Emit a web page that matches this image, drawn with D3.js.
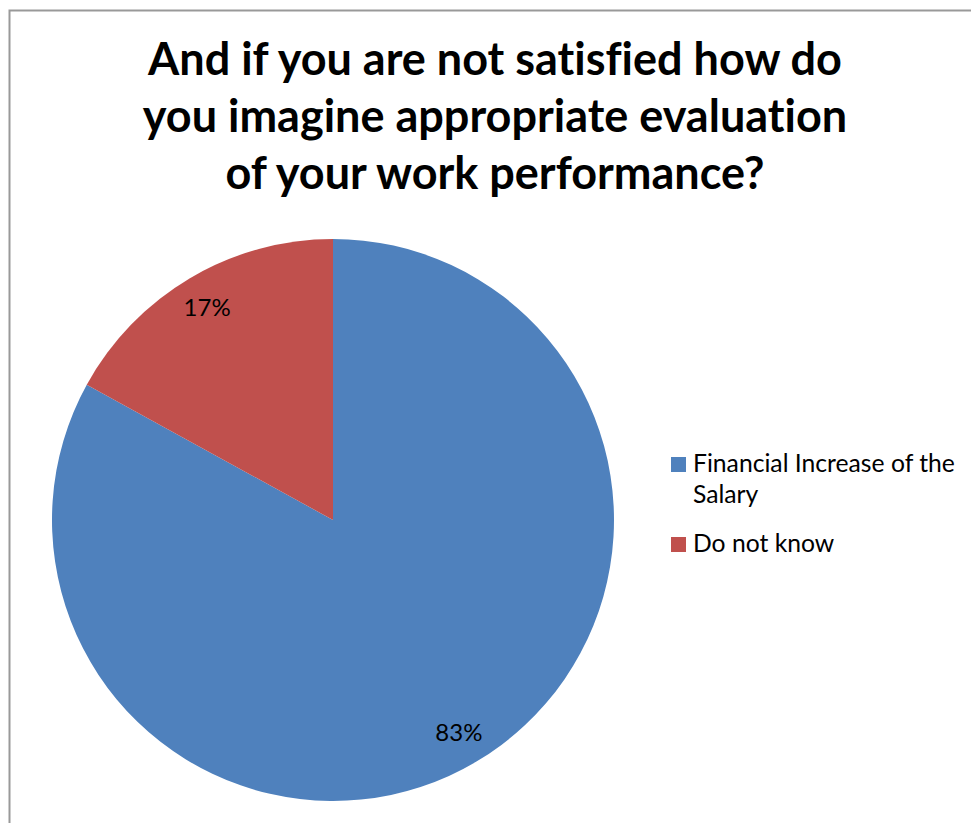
<!DOCTYPE html>
<html>
<head>
<meta charset="utf-8">
<script src="https://cdn.jsdelivr.net/npm/d3@7"></script>
<style>
  html, body { margin: 0; padding: 0; background: #fff; }
  svg { display: block; }
  text { font-family: Lato, "Liberation Sans", sans-serif; font-variant-ligatures: none; }
</style>
</head>
<body>
<script>
// Survey answers and their shares (percent)
const categories = ["Financial Increase of the Salary", "Do not know"];
const values = [83, 17];
const legendLines = [["Financial Increase of the", "Salary"], ["Do not know"]];
const titleLines = [
  "And if you are not satisfied how do",
  "you imagine appropriate evaluation",
  "of your work performance?"
];
const colors = ["#4F81BD", "#C0504D"];

const W = 971, H = 823;
const svg = d3.select("body").append("svg").attr("width", W).attr("height", H);

// chart frame (continues past the right and bottom edges)
svg.append("rect")
  .attr("x", 9.5).attr("y", 10.5)
  .attr("width", W + 20).attr("height", H + 20)
  .attr("fill", "#fff").attr("stroke", "#999").attr("stroke-width", 2);

// title
const title = svg.append("g").attr("font-weight", 700).attr("fill", "#000");
titleLines.forEach((line, i) => {
  title.append("text")
    .attr("x", 495).attr("y", 75 + i * 57)
    .attr("text-anchor", "middle")
    .attr("font-size", 45)
    .text(line);
});

// pie
const cx = 333, cy = 520, r = 281;
const pie = d3.pie().sort(null).value(d => d)(values);
const arc = d3.arc().innerRadius(0).outerRadius(r);
const g = svg.append("g").attr("transform", `translate(${cx},${cy})`);
g.selectAll("path").data(pie).join("path")
  .attr("d", arc)
  .attr("fill", (d, i) => colors[i]);

// percent labels, placed along each slice's bisector
const labelArc = d3.arc().innerRadius(r * 0.88).outerRadius(r * 0.88);
g.selectAll("text.pct").data(pie).join("text")
  .attr("class", "pct")
  .attr("transform", d => {
    const [x, y] = labelArc.centroid(d);
    return `translate(${x},${y})`;
  })
  .attr("text-anchor", "middle")
  .attr("dy", "0.36em")
  .attr("font-size", 24)
  .attr("fill", "#000")
  .text(d => d.data + "%");

// legend
const legend = svg.append("g");
const legendY = [457, 537];
categories.forEach((c, i) => {
  legend.append("rect")
    .attr("x", 671).attr("y", legendY[i])
    .attr("width", 15).attr("height", 15)
    .attr("fill", colors[i]);
  legendLines[i].forEach((t, j) => {
    legend.append("text")
      .attr("x", 693).attr("y", legendY[i] + 15 + j * 31)
      .attr("font-size", 24.7).attr("fill", "#000")
      .text(t);
  });
});
</script>
</body>
</html>
